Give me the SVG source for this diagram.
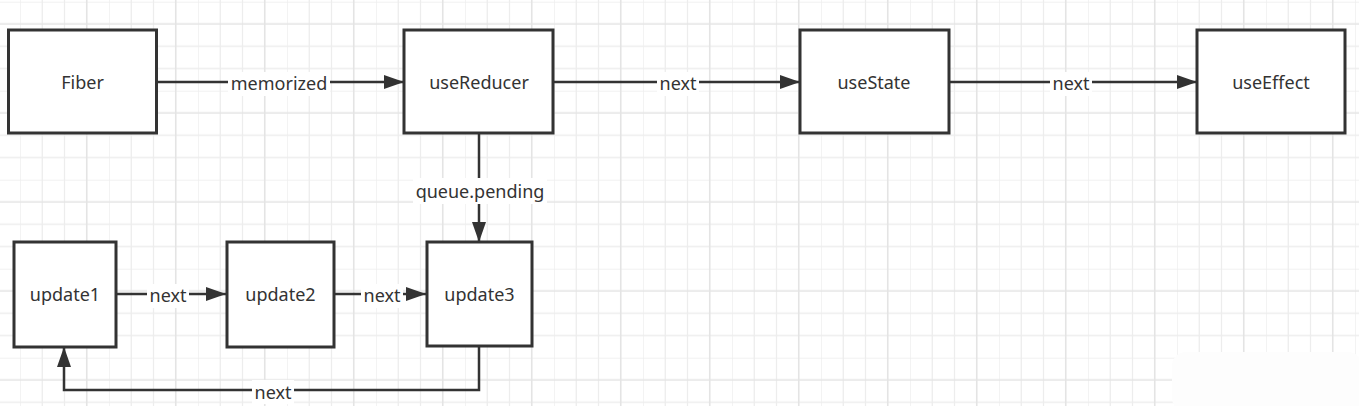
<svg xmlns="http://www.w3.org/2000/svg" width="1359" height="406" viewBox="0 0 1359 406">
<defs>
<pattern id="grid" patternUnits="userSpaceOnUse" x="20" y="1.7" width="89" height="89">
<path d="M0,0V89M22.25,0V89M44.5,0V89M0,0H89M0,44.5H89M0,66.75H89" stroke="#ededed" stroke-width="1.3" fill="none"/>
<path d="M66.75,0V89M0,22.25H89" stroke="#e4e4e4" stroke-width="1.6" fill="none"/>
</pattern>
<marker id="arrow" markerUnits="userSpaceOnUse" markerWidth="22" markerHeight="14" refX="20" refY="7" orient="auto">
<path d="M0,0 L20,7 L0,14 Z" fill="#333"/>
</marker>
<style>
.box{fill:#fff;stroke:#333;stroke-width:3}
.lbl{font-family:"Noto Sans","Liberation Sans",sans-serif;font-size:18px;fill:#333;text-anchor:middle}
.edge{fill:none;stroke:#333;stroke-width:2.5;marker-end:url(#arrow)}
.lbg{fill:#fff}
</style>
</defs>
<rect width="1359" height="406" fill="#fff"/>
<rect width="1359" height="406" fill="url(#grid)"/>
<rect x="1172" y="352" width="190" height="60" rx="14" fill="#fdfdfd"/>

<g id="connectors">
<path class="edge" d="M156,82 H404"/>
<path class="edge" d="M553,82 H800"/>
<path class="edge" d="M949,82 H1197"/>
<path class="edge" d="M479,133 V242"/>
<path class="edge" d="M116,294 H226"/>
<path class="edge" d="M334,294 H426"/>
<path class="edge" d="M479,346 V390 H64 V347"/>
<rect class="lbg" x="228" y="72" width="102" height="24"/>
<text class="lbl" x="279" y="90">memorized</text>
<rect class="lbg" x="657" y="72" width="42" height="24"/>
<text class="lbl" x="678" y="90">next</text>
<rect class="lbg" x="1050" y="72" width="42" height="24"/>
<text class="lbl" x="1071" y="90">next</text>
<rect class="lbg" x="413" y="178" width="134" height="26"/>
<text class="lbl" x="480" y="198">queue.pending</text>
<rect class="lbg" x="147" y="284" width="42" height="24"/>
<text class="lbl" x="168" y="302">next</text>
<rect class="lbg" x="361" y="284" width="42" height="24"/>
<text class="lbl" x="382" y="302">next</text>
<rect class="lbg" x="252" y="380" width="42" height="24"/>
<text class="lbl" x="273" y="398.5">next</text>
</g>

<g id="fiber"><rect class="box" x="8.5" y="30" width="148" height="103"/><text class="lbl" x="82.5" y="89">Fiber</text></g>
<g id="useReducer"><rect class="box" x="404" y="30" width="149" height="103"/><text class="lbl" x="479" y="89">useReducer</text></g>
<g id="useState"><rect class="box" x="800" y="30" width="149" height="103"/><text class="lbl" x="874" y="89">useState</text></g>
<g id="useEffect"><rect class="box" x="1197" y="30" width="148" height="103"/><text class="lbl" x="1271" y="89">useEffect</text></g>
<g id="update1"><rect class="box" x="14" y="242" width="102" height="105"/><text class="lbl" x="65" y="301">update1</text></g>
<g id="update2"><rect class="box" x="227" y="242" width="107" height="105"/><text class="lbl" x="280.5" y="301">update2</text></g>
<g id="update3"><rect class="box" x="427" y="242" width="105" height="104"/><text class="lbl" x="479.5" y="301">update3</text></g>
</svg>
